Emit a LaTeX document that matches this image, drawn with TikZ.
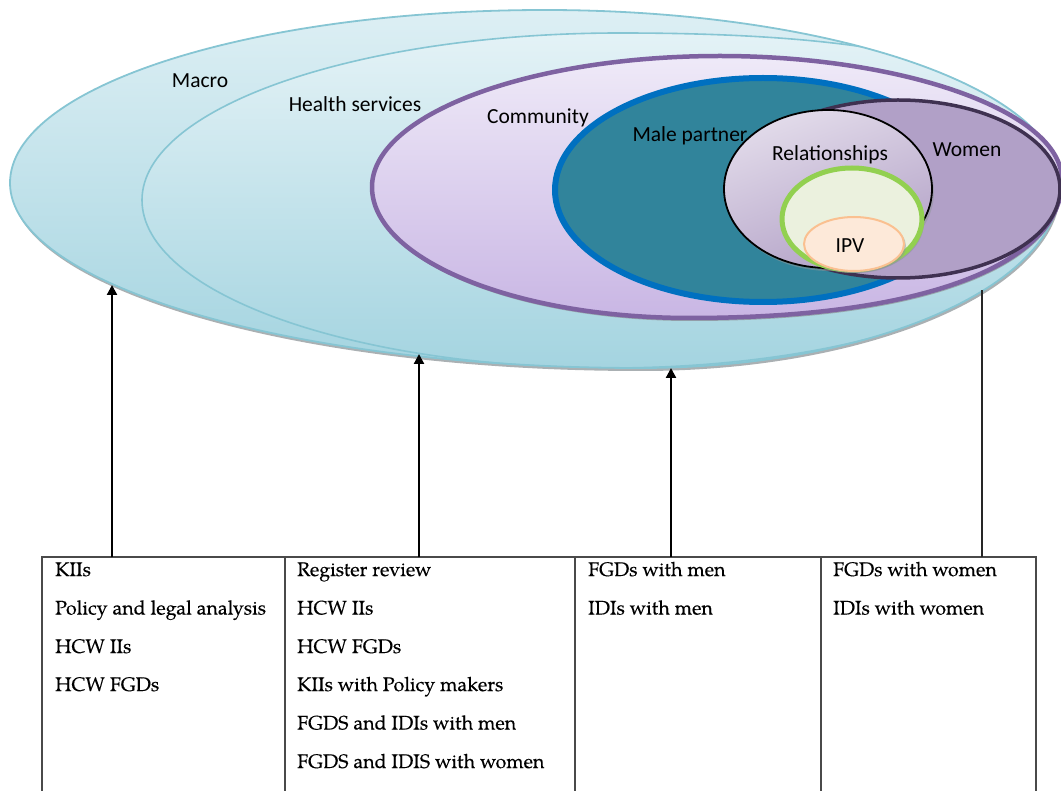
\documentclass[tikz,border=0pt]{standalone}
\usepackage{fontspec}
\newfontfamily\labelfont{Carlito}
\newfontfamily\cellfont[FakeBold=0.3]{TeX Gyre Pagella}
\usetikzlibrary{arrows.meta}

\definecolor{macroTop}{HTML}{DDEFF4}
\definecolor{macroBot}{HTML}{A4D4E0}
\definecolor{macroLine}{HTML}{86C5D3}
\definecolor{commTop}{HTML}{EFEAF8}
\definecolor{commBot}{HTML}{C9B6E4}
\definecolor{commLine}{HTML}{7E62A1}
\definecolor{maleFill}{HTML}{31849B}
\definecolor{maleLine}{HTML}{0070C0}
\definecolor{womenFill}{HTML}{B1A0C7}
\definecolor{womenLine}{HTML}{3F3151}
\definecolor{relTop}{HTML}{E2DBEA}
\definecolor{relBot}{HTML}{B3A2C7}
\definecolor{ipvOuterLine}{HTML}{92D050}
\definecolor{ipvOuterFill}{HTML}{EBF1DE}
\definecolor{ipvLine}{HTML}{FAC090}
\definecolor{ipvFill}{HTML}{FDE9D9}
\definecolor{shadowGray}{HTML}{8E9699}
\definecolor{tableLine}{HTML}{4A4A4A}

% outlines of the three large nested levels
\newcommand\macroshape{(10,183) .. controls (10,87) and (250,10) .. (545,10)
  .. controls (829,10) and (1060,88) .. (1060,185)
  .. controls (1060,286) and (872,368) .. (640,368)
  .. controls (292,368) and (10,285) .. (10,183) -- cycle}
\newcommand\healthshape{(142,200) .. controls (142,108) and (356,33) .. (620,33)
  .. controls (920,33) and (1075,75) .. (1075,190)
  .. controls (1075,290) and (870,368) .. (610,368)
  .. controls (352,368) and (142,293) .. (142,200) -- cycle}
\newcommand\communityshape{(372,187) .. controls (372,115) and (528,56) .. (720,56)
  .. controls (902,56) and (1062,111) .. (1062,180)
  .. controls (1062,262) and (930,318) .. (690,318)
  .. controls (514,318) and (372,259) .. (372,187) -- cycle}

\tikzset{
  levellabel/.style={font=\labelfont\fontsize{21.5}{24}\selectfont, text=black, inner sep=0pt, anchor=base},
  celltext/.style={font=\cellfont\fontsize{19.6}{23}\selectfont, inner sep=0pt, anchor=base west},
  column/.style={draw=none, inner sep=0pt, outer sep=0pt, anchor=north west, minimum height=234pt},
  tablerule/.style={draw=tableLine, line width=1.3pt},
  levelarrow/.style={draw=black, line width=2.2pt, -{Triangle[width=10pt,length=10pt]}},
  levelline/.style={draw=black!85, line width=2pt},
  softshadow/.style={fill=shadowGray, opacity=0.75}
}

\begin{document}
\begin{tikzpicture}[x=1pt, y=-1pt]
\useasboundingbox (0,0) rectangle (1061,791);

% Macro level
\fill[softshadow, shift={(1,3)}] \macroshape;
\shade[top color=macroTop, bottom color=macroBot] \macroshape;

% Health services level, kept inside the macro outline
\begin{scope}
  \clip \macroshape;
  \shade[top color=macroTop!80!white, bottom color=macroBot] \healthshape;
  \draw[macroLine, line width=1.6pt] \healthshape;
\end{scope}
\draw[macroLine, line width=1.8pt] \macroshape;

% Community level
\fill[softshadow, shift={(1,3)}] \communityshape;
\shade[top color=commTop, bottom color=commBot] \communityshape;
\draw[commLine, line width=4.5pt] \communityshape;

% Male partner
\draw[maleLine, fill=maleFill, line width=6pt] (763,190) ellipse [x radius=208pt, y radius=112pt];

% Women
\draw[womenLine, fill=womenFill, line width=3.5pt] (898,189) ellipse [x radius=162pt, y radius=89pt];

% Relationships
\fill[softshadow, opacity=0.5] (830,192) ellipse [x radius=104pt, y radius=79pt];
\shade[top color=relTop, bottom color=relBot, shading angle=20] (828,189) ellipse [x radius=104pt, y radius=79pt];
\draw[black, line width=1.8pt] (828,189) ellipse [x radius=104pt, y radius=79pt];

% Ring around IPV
\fill[softshadow, opacity=0.6] (854,222) ellipse [x radius=70pt, y radius=51pt];
\draw[ipvOuterLine, fill=ipvOuterFill, line width=5pt] (852,219) ellipse [x radius=70pt, y radius=51pt];

% IPV
\fill[softshadow, opacity=0.5] (856,246) ellipse [x radius=50pt, y radius=27pt];
\draw[ipvLine, fill=ipvFill, line width=2pt] (854,244) ellipse [x radius=50pt, y radius=27pt];

% level names
\node[levellabel] (lblMacro)  at (200,88)  {Macro};
\node[levellabel] (lblHealth) at (355,112) {Health services};
\node[levellabel] (lblComm)   at (538,124) {Community};
\node[levellabel] (lblMale)   at (690,142) {Male partner};
\node[levellabel] (lblRel)    at (830,161) {Relationships};
\node[levellabel] (lblWomen)  at (967,157) {Women};
\node[levellabel] (lblIPV)    at (850,253) {IPV};

% methods table
\node[column, minimum width=243pt] (colA) at (42,557) {};
\node[column, minimum width=290pt] (colB) at (285,557) {};
\node[column, minimum width=246pt] (colC) at (575,557) {};
\node[column, minimum width=215pt] (colD) at (821,557) {};
\draw[tablerule] (colA.south west) -- (colA.north west) -- (colD.north east) -- (colD.south east);
\draw[tablerule] (colB.north west) -- (colB.south west);
\draw[tablerule] (colC.north west) -- (colC.south west);
\draw[tablerule] (colD.north west) -- (colD.south west);

\node[celltext] (a1) at (55,576)   {KIIs};
\node[celltext] (a2) at (55,614.5) {Policy and legal analysis};
\node[celltext] (a3) at (55,653)   {HCW IIs};
\node[celltext] (a4) at (55,691)   {HCW FGDs};

\node[celltext] (b1) at (297,576)   {Register review};
\node[celltext] (b2) at (297,614.5) {HCW IIs};
\node[celltext] (b3) at (297,653)   {HCW FGDs};
\node[celltext] (b4) at (297,691)   {KIIs with Policy makers};
\node[celltext] (b5) at (297,729.5) {FGDS and IDIs with men};
\node[celltext] (b6) at (297,768)   {FGDS and IDIS with women};

\node[celltext] (c1) at (588,576)   {FGDs with men};
\node[celltext] (c2) at (588,614.5) {IDIs with men};

\node[celltext] (d1) at (833,576)   {FGDs with women};
\node[celltext] (d2) at (833,614.5) {IDIs with women};

% where each column points into the levels
\coordinate (tipMacro)  at (112,285);
\coordinate (tipHealth) at (419,354);
\coordinate (tipComm)   at (671,368);
\coordinate (tipWomen)  at (982,290);

\draw[levelarrow] (colA.north -| tipMacro)  -- (tipMacro);
\draw[levelarrow] (colB.north -| tipHealth) -- (tipHealth);
\draw[levelarrow] (colC.north -| tipComm)   -- (tipComm);
\draw[levelline]  (colD.north -| tipWomen)  -- (tipWomen);
\end{tikzpicture}
\end{document}
